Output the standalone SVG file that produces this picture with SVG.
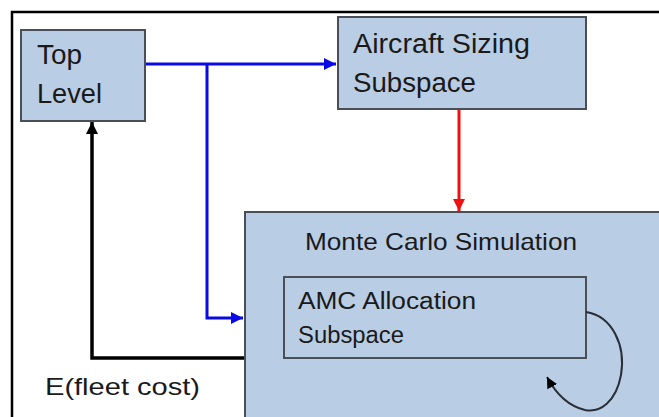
<svg xmlns="http://www.w3.org/2000/svg" width="659" height="417" viewBox="0 0 659 417">
<defs>
<style>
.box{fill:#b9cde5;stroke:#4a4f57;stroke-width:2}
.t{font-family:"Liberation Sans",Arial,sans-serif;fill:#1a1a1a}
.blue{fill:none;stroke:#0a0ae6;stroke-width:3}
.red{fill:none;stroke:#f01010;stroke-width:3}
.blk{fill:none;stroke:#000;stroke-width:3.5}
.loop{fill:none;stroke:#2a2e36;stroke-width:2}
</style>
<marker id="ab" markerUnits="userSpaceOnUse" markerWidth="12" markerHeight="12" viewBox="0 0 10 10" refX="10" refY="5" orient="auto"><path d="M0,0 L10,5 L0,10 z" fill="#0a0ae6"/></marker>
<marker id="ar" markerUnits="userSpaceOnUse" markerWidth="12" markerHeight="12" viewBox="0 0 10 10" refX="10" refY="5" orient="auto"><path d="M0,0 L10,5 L0,10 z" fill="#f01010"/></marker>
<marker id="ak" markerUnits="userSpaceOnUse" markerWidth="12" markerHeight="12" viewBox="0 0 10 10" refX="10" refY="5" orient="auto"><path d="M0,0 L10,5 L0,10 z" fill="#000"/></marker>
<marker id="al" markerUnits="userSpaceOnUse" markerWidth="11" markerHeight="11" viewBox="0 0 10 10" refX="10" refY="5" orient="auto"><path d="M0,0 L10,5 L0,10 z" fill="#000"/></marker>
</defs>
<rect x="0" y="0" width="659" height="417" fill="#fff"/>
<path d="M12,417 L12,12 L659,12" fill="none" stroke="#000" stroke-width="2.5"/>
<g id="monte-carlo">
<rect class="box" x="245" y="212" width="420" height="215"/>
<text class="t" x="305" y="250" font-size="24" textLength="272" lengthAdjust="spacingAndGlyphs">Monte Carlo Simulation</text>
</g>
<g id="amc">
<rect class="box" x="284" y="277" width="302" height="81"/>
<text class="t" x="298" y="309" font-size="23" textLength="178" lengthAdjust="spacingAndGlyphs">AMC Allocation</text>
<text class="t" x="298" y="343" font-size="23" textLength="106" lengthAdjust="spacingAndGlyphs">Subspace</text>
</g>
<g id="top-level">
<rect class="box" x="21" y="30" width="124" height="91"/>
<text class="t" x="37" y="64" font-size="27" textLength="45" lengthAdjust="spacingAndGlyphs">Top</text>
<text class="t" x="37" y="103" font-size="27" textLength="65" lengthAdjust="spacingAndGlyphs">Level</text>
</g>
<g id="aircraft-sizing">
<rect class="box" x="338" y="17" width="248" height="92"/>
<text class="t" x="353" y="53" font-size="27" textLength="177" lengthAdjust="spacingAndGlyphs">Aircraft Sizing</text>
<text class="t" x="353" y="92" font-size="27" textLength="123" lengthAdjust="spacingAndGlyphs">Subspace</text>
</g>
<g id="connectors">
<path class="blue" d="M146,64 L336,64" marker-end="url(#ab)"/>
<path class="blue" d="M207,64 L207,318 L243,318" marker-end="url(#ab)"/>
<path class="red" d="M459,110 L459,211" marker-end="url(#ar)"/>
<path class="blk" d="M244,358 L92,358 L92,122" marker-end="url(#ak)"/>
<path class="loop" d="M586,312 C612,316 626,345 621,375 C616,402 600,413 585,410 C568,406 555,392 547,377" marker-end="url(#al)"/>
</g>
<text class="t" x="45" y="395" font-size="24" textLength="155" lengthAdjust="spacingAndGlyphs">E(fleet cost)</text>
</svg>
